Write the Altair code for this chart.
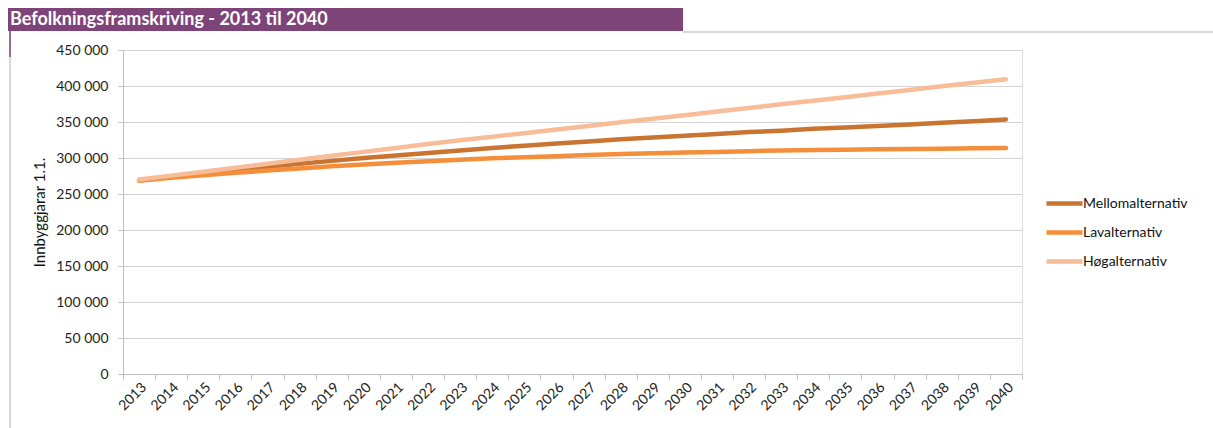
import altair as alt
import pandas as pd

years = list(range(2013, 2041))
mello = [269, 274, 279, 284, 288, 292, 296, 300, 303.5, 307, 310.5, 314, 317, 320,
         323, 326, 328.5, 331, 333.5, 336, 338, 340.5, 342.5, 344.5, 346.5, 349, 351, 353.5]
lav = [268.5, 272.5, 276, 279.5, 282.5, 285.5, 288.5, 291, 293.5, 295.5, 297.5, 299.5, 301, 302.5,
       304, 305.5, 306.5, 307.5, 308.5, 309.5, 310.5, 311, 311.5, 312, 312.5, 313, 313.5, 314]
hog = [270, 275.5, 281, 286.5, 292, 297.5, 303, 308.5, 314, 319.5, 324.5, 329.5, 334.5, 339.5,
       344.5, 349.5, 354.5, 359.5, 364.5, 369.5, 374.5, 379.5, 384.5, 389.5, 394.5, 399.5, 404.5, 409.5]
series_names = ["Mellomalternativ", "Lavalternativ", "Høgalternativ"]
series_colors = ["#C97431", "#F58E3A", "#F8BC98"]
title_text = "Befolkningsframskriving - 2013 til 2040"
y_title = "Innbyggjarar 1.1."

rows = []
for name, vals in zip(series_names, [mello, lav, hog]):
    for y, v in zip(years, vals):
        rows.append({"year": str(y), "value": v * 1000, "series": name})
df = pd.DataFrame(rows)

FONT = "Lato"
W, H = 899, 324

lines = alt.Chart(df).mark_line(strokeWidth=4.5, strokeCap="round").encode(
    x=alt.X("year:O", bandPosition=0.5,
            scale=alt.Scale(type="band", paddingInner=0, paddingOuter=0),
            axis=alt.Axis(title=None, labelAngle=-45, tickBand="extent", grid=False,
                          domainColor="#BFBFBF", tickColor="#BFBFBF", tickSize=5,
                          labelFontSize=14, labelColor="#222222", labelPadding=1,
                          labelFont=FONT)),
    y=alt.Y("value:Q", scale=alt.Scale(domain=[0, 450000], nice=False),
            axis=alt.Axis(title=y_title, values=list(range(0, 450001, 50000)),
                          labelExpr="replace(format(datum.value, ','), ',', ' ')",
                          grid=True, gridColor="#D4D4D4", gridWidth=1.2,
                          domainColor="#BFBFBF", tickColor="#BFBFBF", tickSize=5,
                          labelFontSize=14, labelColor="#222222", labelPadding=10,
                          titleFontSize=15, titleFontWeight="normal", titleColor="#111111",
                          titlePadding=8, labelFont=FONT, titleFont=FONT)),
    color=alt.Color("series:N",
                    scale=alt.Scale(domain=series_names, range=series_colors),
                    sort=series_names,
                    legend=alt.Legend(title=None, orient="none", legendX=933, legendY=145,
                                      symbolType="M-3,0H3", symbolSize=144,
                                      symbolStrokeWidth=4.5, labelOffset=10,
                                      rowPadding=10, padding=0,
                                      labelFontSize=14, labelColor="#111111", labelFont=FONT)),
)

one = alt.Data(values=[{"a": 1}])

banner = alt.Chart(one).mark_rect(color="#7E4379").encode(
    x=alt.value(-115), x2=alt.value(560), y=alt.value(-42), y2=alt.value(-19))
title = alt.Chart(one).mark_text(text=title_text, color="white", fontWeight="bold",
                                 fontSize=18, font=FONT, align="left", baseline="middle").encode(
    x=alt.value(-113), y=alt.value(-30))
top_line = alt.Chart(one).mark_rule(color="#D9D9D9", strokeWidth=2).encode(
    x=alt.value(560), x2=alt.value(1090), y=alt.value(-18))
left_line = alt.Chart(one).mark_rule(color="#D9D9D9", strokeWidth=2).encode(
    x=alt.value(-113), y=alt.value(-18), y2=alt.value(378))
left_purple = alt.Chart(one).mark_rule(color="#9B6A98", strokeWidth=2).encode(
    x=alt.value(-113), y=alt.value(-19), y2=alt.value(7))

chart = alt.layer(lines, banner, title, top_line, left_line, left_purple).properties(
    width=W, height=H,
    autosize=alt.AutoSizeParams(type="none"),
    padding={"left": 123, "top": 50, "right": 191, "bottom": 54},
).configure_view(stroke=None).configure(background="white")

chart.save("out.html", embed_options={"renderer": "svg", "actions": False})
